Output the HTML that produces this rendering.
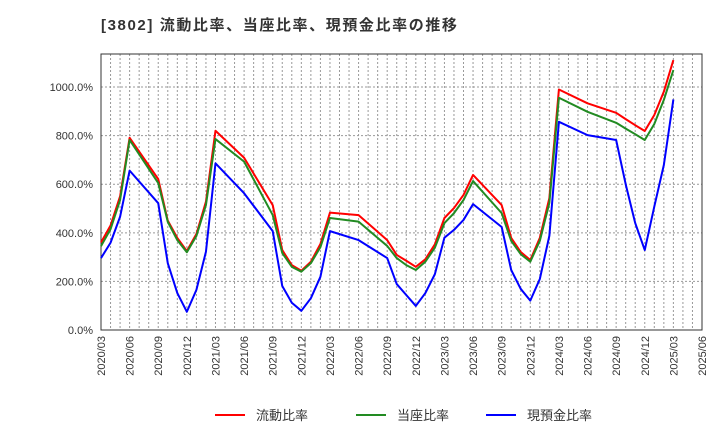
<!DOCTYPE html>
<html><head><meta charset="utf-8"><style>
body{margin:0;background:#fff;font-family:"Liberation Sans","Noto Sans CJK JP",sans-serif;}
svg text{font-family:"Liberation Sans","Noto Sans CJK JP",sans-serif;}
</style></head><body>
<svg id="chart" width="720" height="440">
<text x="101" y="30" font-size="15" font-weight="bold" letter-spacing="1.6" fill="#333">[3802]  流動比率、当座比率、現預金比率の推移</text>
<g id="grid"></g><g id="axes"></g><g id="series"></g>
<g>
<line x1="215" y1="415" x2="245" y2="415" stroke="#ff0000" stroke-width="2"/>
<text x="256" y="420" font-size="13" fill="#333">流動比率</text>
<line x1="356" y1="415" x2="386" y2="415" stroke="#228b22" stroke-width="2"/>
<text x="397" y="420" font-size="13" fill="#333">当座比率</text>
<line x1="486" y1="415" x2="516" y2="415" stroke="#0000ff" stroke-width="2"/>
<text x="527" y="420" font-size="13" fill="#333">現預金比率</text>
</g>
</svg>
<script>
const dates=["2020/03","2020/04","2020/05","2020/06","2020/09","2020/10","2020/11","2020/12","2021/01","2021/02","2021/03","2021/06","2021/09","2021/10","2021/11","2021/12","2022/01","2022/02","2022/03","2022/06","2022/09","2022/10","2022/11","2022/12","2023/01","2023/02","2023/03","2023/04","2023/05","2023/06","2023/09","2023/10","2023/11","2023/12","2024/01","2024/02","2024/03","2024/06","2024/09","2024/10","2024/11","2024/12","2025/01","2025/02","2025/03"];
const currentRatio=[360,430,550,791,621,450,379,325,395,528,820,709,514,329,267,244,281,354,483,473,370,309,285,260,291,353,461,502,556,638,514,379,321,288,379,543,990,933,894,868,843,819,885,981,1111];
const quickRatio=[345,415,535,782,605,445,370,320,387,514,786,693,473,317,260,240,275,341,461,446,346,296,267,247,281,339,440,481,535,613,481,367,312,281,367,523,956,898,853,829,806,782,848,947,1070];
const cashRatio=[296,359,466,656,522,275,152,75,165,322,686,563,407,181,112,79,131,219,407,370,296,189,144,99,152,230,380,412,453,518,424,247,169,121,210,388,857,802,782,600,440,329,508,679,949];
const yTicks=[0,200,400,600,800,1000];
const xTickLabels=["2020/03","2020/06","2020/09","2020/12","2021/03","2021/06","2021/09","2021/12","2022/03","2022/06","2022/09","2022/12","2023/03","2023/06","2023/09","2023/12","2024/03","2024/06","2024/09","2024/12","2025/03","2025/06"];
const L=101,R=702,T=54,B=330,YMAX=1136,NM=63;
const NS="http://www.w3.org/2000/svg";
function mi(d){const[y,m]=d.split("/").map(Number);return (y-2020)*12+m-3;}
function xs(d){return L+mi(d)*(R-L)/NM;}
function ys(v){return B-v*(B-T)/YMAX;}
function mk(tag,attrs,parent){const e=document.createElementNS(NS,tag);for(const k in attrs)e.setAttribute(k,attrs[k]);parent.appendChild(e);return e;}
const grid=document.getElementById("grid"),axes=document.getElementById("axes"),ser=document.getElementById("series");
for(let i=1;i<NM;i++){const x=L+i*(R-L)/NM;const l=mk("line",{x1:x,x2:x,y1:T,y2:B,stroke:"#999","stroke-dasharray":"2,2","stroke-width":1},grid);

}
yTicks.forEach(v=>{const y=ys(v);
if(v>0){const g=mk("line",{x1:L,x2:R,y1:y,y2:y,stroke:"#999","stroke-dasharray":"2,2","stroke-width":1},grid);

}
const t=mk("text",{x:93,y:y+4,"font-size":11,fill:"#333","text-anchor":"end"},axes);t.textContent=v.toFixed(1)+"%";

});
const fr=mk("rect",{x:L,y:T,width:R-L,height:B-T,fill:"none",stroke:"#333","stroke-width":1},axes);


xTickLabels.forEach(d=>{const x=xs(d);const t=mk("text",{transform:`translate(${x+4},${B+6}) rotate(-90)`,"font-size":11,fill:"#333","text-anchor":"end"},axes);t.textContent=d;

});
[[currentRatio,"#ff0000","current-ratio-line"],[quickRatio,"#228b22","quick-ratio-line"],[cashRatio,"#0000ff","cash-ratio-line"]].forEach(([vals,c,n])=>{
const p=mk("polyline",{points:vals.map((v,i)=>xs(dates[i])+","+ys(v)).join(" "),fill:"none",stroke:c,"stroke-width":2,"stroke-linejoin":"round"},ser);

});
</script>
</body></html>
